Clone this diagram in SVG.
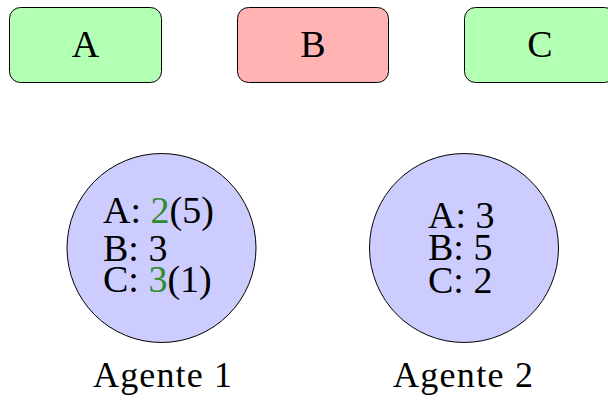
<svg xmlns="http://www.w3.org/2000/svg" width="608" height="404" viewBox="0 0 608 404">
  <style>
    .box { stroke: #000; stroke-width: 1; }
    .green { fill: #b3ffb3; }
    .red { fill: #ffb3b3; }
    .agent { fill: #ccccff; stroke: #000; stroke-width: 1; }
    text { font-family: "Liberation Serif", "Times New Roman", serif; fill: #000; }
    .lbl { font-size: 38px; text-anchor: middle; }
    .val { font-size: 38px; }
    .name { font-size: 36px; text-anchor: middle; }
    .hi { fill: #2e8b2e; }
  </style>

  <!-- resources -->
  <g id="A">
    <rect class="box green" x="9.5" y="7.5" width="152" height="75" rx="11" ry="11"/>
    <text class="lbl" x="85.5" y="57">A</text>
  </g>
  <g id="B">
    <rect class="box red" x="237.5" y="7.5" width="151" height="75" rx="11" ry="11"/>
    <text class="lbl" x="313" y="57">B</text>
  </g>
  <g id="C">
    <rect class="box green" x="464.5" y="7.5" width="151" height="75" rx="11" ry="11"/>
    <text class="lbl" x="540" y="57">C</text>
  </g>

  <!-- agents -->
  <g id="agente1">
    <circle class="agent" cx="161.5" cy="248" r="94.5"/>
    <text class="val" x="103" y="223">A: <tspan class="hi">2</tspan>(5)</text>
    <text class="val" x="103" y="261">B: 3</text>
    <text class="val" x="103" y="292">C: <tspan class="hi">3</tspan>(1)</text>
    <text class="name" x="162.5" y="387" textLength="139">Agente 1</text>
  </g>
  <g id="agente2">
    <circle class="agent" cx="464" cy="248" r="94.5"/>
    <text class="val" x="428" y="228">A: 3</text>
    <text class="val" x="428" y="260">B: 5</text>
    <text class="val" x="428" y="293">C: 2</text>
    <text class="name" x="463" y="387" textLength="140">Agente 2</text>
  </g>

  <g id="connectors"/>
</svg>
